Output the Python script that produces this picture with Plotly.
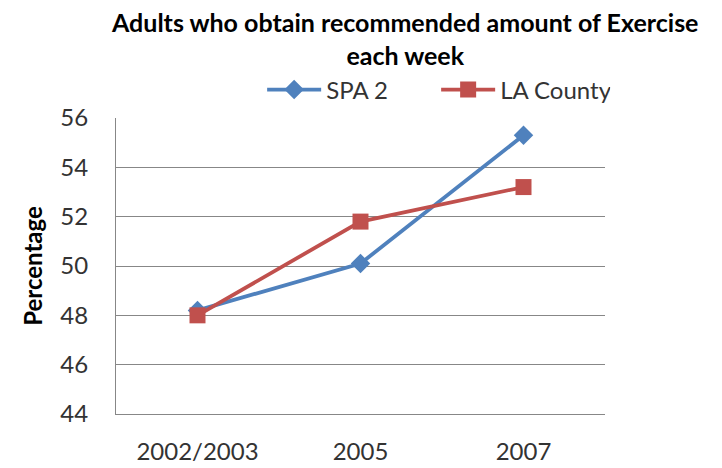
import plotly.graph_objects as go

years = ["2002/2003", "2005", "2007"]
spa2 = [48.2, 50.1, 55.3]
la_county = [48.0, 51.8, 53.2]

font = "Lato, Liberation Sans, Arial"

fig = go.Figure()
fig.add_trace(go.Scatter(x=years, y=spa2, name="SPA 2", mode="lines+markers",
                         line=dict(color="#4F81BD", width=3.8),
                         marker=dict(symbol="diamond", size=15, color="#4F81BD")))
fig.add_trace(go.Scatter(x=years, y=la_county, name="LA County", mode="lines+markers",
                         line=dict(color="#C0504D", width=3.8),
                         marker=dict(symbol="square", size=16, color="#C0504D")))

fig.add_annotation(text="<b>Adults who obtain recommended amount of Exercise<br>each week</b>",
                   xref="paper", yref="paper", x=0.59, y=1.27,
                   xanchor="center", yanchor="middle", showarrow=False,
                   font=dict(size=25, color="black"))

fig.update_layout(
    width=722, height=468,
    margin=dict(l=108, r=125, t=110, b=62),
    paper_bgcolor="white", plot_bgcolor="white",
    font=dict(family=font, size=24, color="#333"),
    showlegend=True,
    legend=dict(orientation="h", xref="container", yref="container",
                x=0.352, xanchor="left", y=(468 - 82) / 468, yanchor="middle",
                font=dict(size=24, color="#333"), itemwidth=54, entrywidth=105,
                bgcolor="rgba(0,0,0,0)"),
    xaxis=dict(showline=True, linecolor="#878787", linewidth=1, showgrid=False,
               ticks="", tickfont=dict(size=24), range=[-0.5, 2.5], automargin=False,
               ticklabelstandoff=16),
    yaxis=dict(range=[44, 56], dtick=2, showline=True, linecolor="#878787", linewidth=1,
               showgrid=True, gridcolor="#878787", gridwidth=1, ticks="",
               zeroline=False, automargin=False, ticklabelstandoff=22,
               title=dict(text="<b>Percentage</b>", font=dict(size=24, color="black"), standoff=10)),
)

fig.write_html("out.html")
